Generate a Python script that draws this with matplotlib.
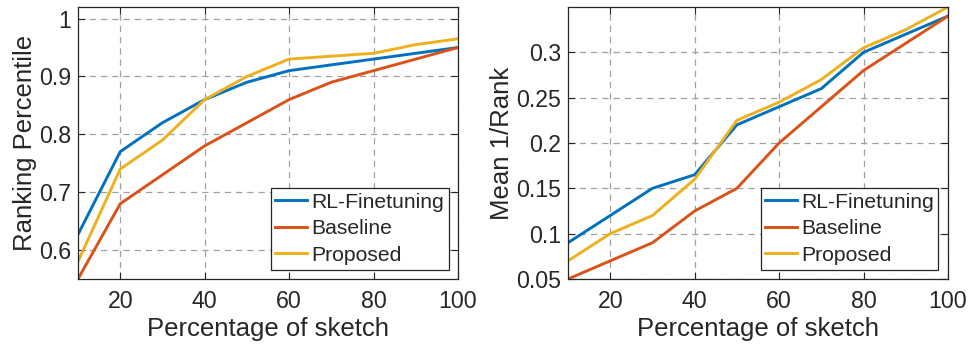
import matplotlib
matplotlib.use("Agg")
import matplotlib.pyplot as plt

plt.rcParams['font.family'] = ['Liberation Sans', 'DejaVu Sans']

x = [10, 20, 30, 40, 50, 60, 70, 80, 90, 100]
series_names = ["RL-Finetuning", "Baseline", "Proposed"]

# Left panel: Ranking Percentile
rp_rl = [0.627, 0.77, 0.82, 0.86, 0.89, 0.91, 0.92, 0.93, 0.94, 0.95]
rp_base = [0.55, 0.68, 0.73, 0.78, 0.82, 0.86, 0.89, 0.91, 0.93, 0.95]
rp_prop = [0.58, 0.74, 0.79, 0.86, 0.90, 0.93, 0.935, 0.94, 0.955, 0.965]

# Right panel: Mean 1/Rank
mr_rl = [0.09, 0.12, 0.15, 0.165, 0.22, 0.24, 0.26, 0.30, 0.32, 0.34]
mr_base = [0.05, 0.07, 0.09, 0.125, 0.15, 0.20, 0.24, 0.28, 0.31, 0.34]
mr_prop = [0.07, 0.10, 0.12, 0.16, 0.225, 0.245, 0.27, 0.305, 0.325, 0.35]

colors = ["#0072BD", "#D95319", "#EDB120"]

left_yticks = [0.6, 0.7, 0.8, 0.9, 1.0]
left_yticklabels = ["0.6", "0.7", "0.8", "0.9", "1"]
right_yticks = [0.05, 0.1, 0.15, 0.2, 0.25, 0.3]
right_yticklabels = ["0.05", "0.1", "0.15", "0.2", "0.25", "0.3"]
xticks = [20, 40, 60, 80, 100]

fig = plt.figure(figsize=(9.69, 3.48), dpi=100)
W, H = 969, 348
ax1 = fig.add_axes([78 / W, 1 - 279 / H, 380 / W, 272 / H])
ax2 = fig.add_axes([568 / W, 1 - 279 / H, 380 / W, 272 / H])


def style(ax, ylabel, ylim, yticks, yticklabels, data):
    for vals, c, n in zip(data, colors, series_names):
        ax.plot(x, vals, color=c, lw=2.1, label=n, solid_joinstyle='miter')
    ax.set_xlim(10, 100)
    ax.set_ylim(*ylim)
    ax.set_xticks(xticks)
    ax.set_yticks(yticks)
    ax.set_yticklabels(yticklabels)
    ax.grid(True, linestyle=(0, (5, 4)), color="#a0a0a0", lw=0.9)
    ax.tick_params(direction="in", top=True, right=True, labelsize=16.7,
                   length=5, width=0.8, color="#262626", labelcolor="#262626")
    ax.tick_params(axis="x", pad=8)
    ax.tick_params(axis="y", pad=5)
    for s in ax.spines.values():
        s.set_color("#262626")
        s.set_linewidth(0.9)
    ax.set_xlabel("Percentage of sketch", fontsize=18.5, color="#262626", labelpad=2.5)
    ax.set_ylabel(ylabel, fontsize=18.5, color="#262626", labelpad=1.5)
    leg = ax.legend(loc="lower right", fontsize=15.2, handlelength=1.5,
                    handletextpad=0.2, labelspacing=0.36, borderpad=0.22,
                    borderaxespad=0.45, fancybox=False, framealpha=1,
                    edgecolor="#262626")
    leg.get_frame().set_linewidth(0.9)
    for t in leg.get_texts():
        t.set_color("#262626")


style(ax1, "Ranking Percentile", (0.55, 1.02), left_yticks, left_yticklabels,
      [rp_rl, rp_base, rp_prop])
style(ax2, "Mean 1/Rank", (0.05, 0.35), right_yticks, right_yticklabels,
      [mr_rl, mr_base, mr_prop])

fig.savefig("out.png", dpi=100)
